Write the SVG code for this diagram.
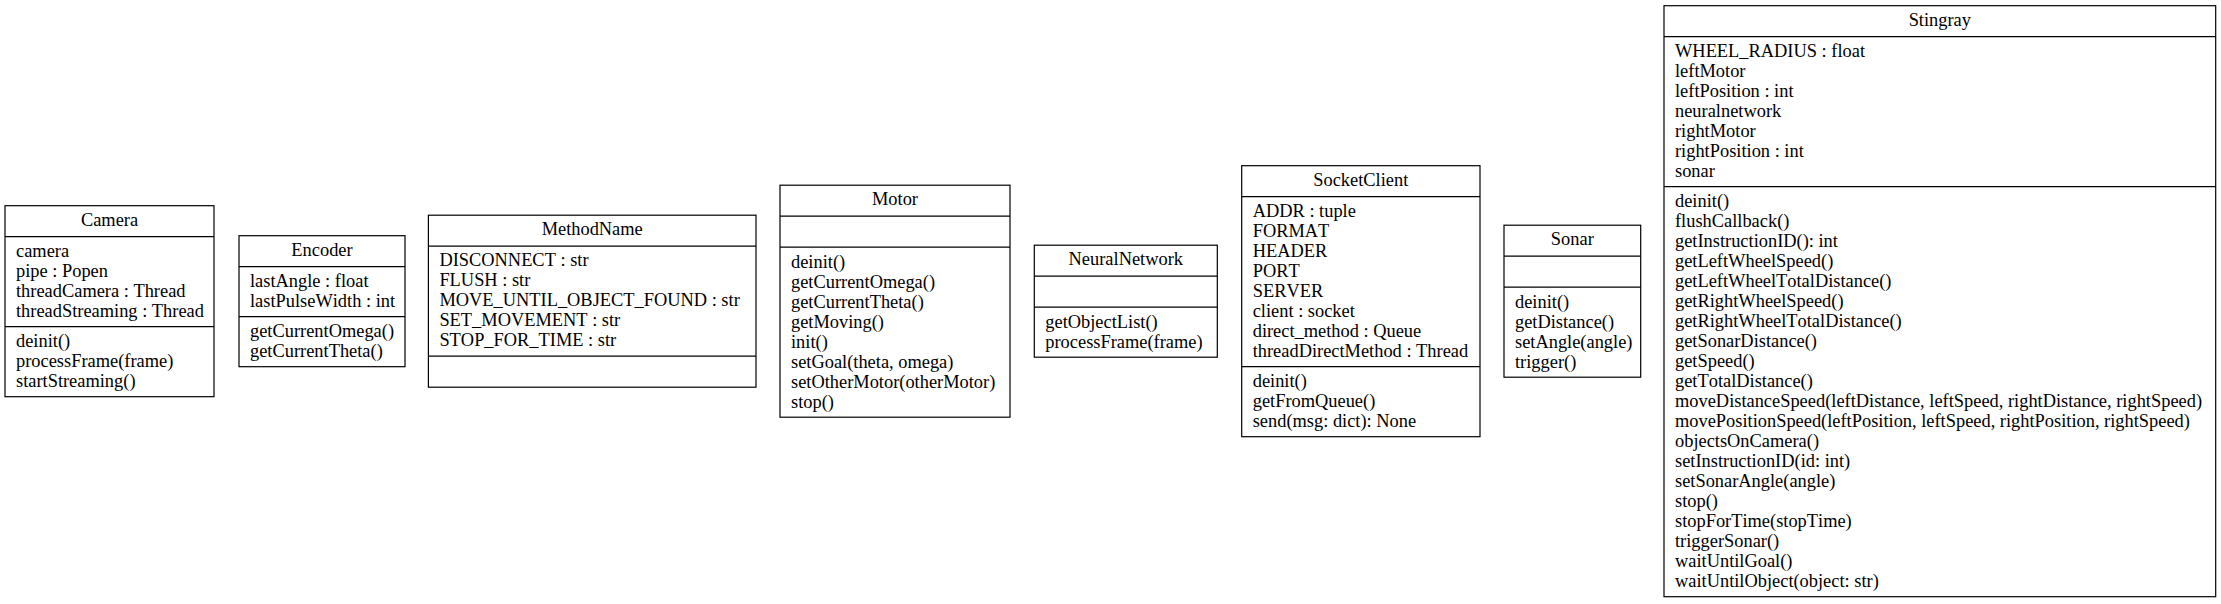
<svg xmlns="http://www.w3.org/2000/svg" width="2221" height="604" viewBox="0 0 2221 604">
<style>
  .box { fill: #ffffff; stroke: #000000; stroke-width: 1.2; }
  .sep { stroke: #000000; stroke-width: 1.2; fill: none; }
  text { font-family: "Liberation Serif", "Times New Roman", serif; font-size: 18.4px; font-kerning: none; fill: #000000; }
  .title { text-anchor: middle; }
</style>
<rect width="2221" height="604" fill="#ffffff"/>
<g id="connectors"></g>

<g id="Camera">
  <rect class="box" x="5" y="205.7" width="209" height="191"/>
  <line class="sep" x1="5" y1="236.7" x2="214" y2="236.7"/>
  <line class="sep" x1="5" y1="326.7" x2="214" y2="326.7"/>
  <text class="title" x="109.5" y="225.5">Camera</text>
  <text x="16" y="256.5">camera</text>
  <text x="16" y="276.5">pipe : Popen</text>
  <text x="16" y="296.5">threadCamera : Thread</text>
  <text x="16" y="316.5">threadStreaming : Thread</text>
  <text x="16" y="347">deinit()</text>
  <text x="16" y="367">processFrame(frame)</text>
  <text x="16" y="387">startStreaming()</text>
</g>

<g id="Encoder">
  <rect class="box" x="239" y="235.7" width="166" height="131"/>
  <line class="sep" x1="239" y1="266.7" x2="405" y2="266.7"/>
  <line class="sep" x1="239" y1="316.7" x2="405" y2="316.7"/>
  <text class="title" x="322" y="255.5">Encoder</text>
  <text x="250" y="286.5">lastAngle : float</text>
  <text x="250" y="306.5">lastPulseWidth : int</text>
  <text x="250" y="337">getCurrentOmega()</text>
  <text x="250" y="357">getCurrentTheta()</text>
</g>

<g id="MethodName">
  <rect class="box" x="428.4" y="215.2" width="327.6" height="172"/>
  <line class="sep" x1="428.4" y1="246.2" x2="756" y2="246.2"/>
  <line class="sep" x1="428.4" y1="356.2" x2="756" y2="356.2"/>
  <text class="title" x="592.2" y="235">MethodName</text>
  <text x="439.4" y="266">DISCONNECT : str</text>
  <text x="439.4" y="286">FLUSH : str</text>
  <text x="439.4" y="306">MOVE_UNTIL_OBJECT_FOUND : str</text>
  <text x="439.4" y="326">SET_MOVEMENT : str</text>
  <text x="439.4" y="346">STOP_FOR_TIME : str</text>
</g>

<g id="Motor">
  <rect class="box" x="780" y="185.2" width="230" height="232"/>
  <line class="sep" x1="780" y1="216.2" x2="1010" y2="216.2"/>
  <line class="sep" x1="780" y1="247.2" x2="1010" y2="247.2"/>
  <text class="title" x="895" y="205">Motor</text>
  <text x="791" y="267.5">deinit()</text>
  <text x="791" y="287.5">getCurrentOmega()</text>
  <text x="791" y="307.5">getCurrentTheta()</text>
  <text x="791" y="327.5">getMoving()</text>
  <text x="791" y="347.5">init()</text>
  <text x="791" y="367.5">setGoal(theta, omega)</text>
  <text x="791" y="387.5">setOtherMotor(otherMotor)</text>
  <text x="791" y="407.5">stop()</text>
</g>

<g id="NeuralNetwork">
  <rect class="box" x="1034.3" y="245.2" width="183" height="112"/>
  <line class="sep" x1="1034.3" y1="276.2" x2="1217.3" y2="276.2"/>
  <line class="sep" x1="1034.3" y1="307.2" x2="1217.3" y2="307.2"/>
  <text class="title" x="1125.8" y="265">NeuralNetwork</text>
  <text x="1045.3" y="327.5">getObjectList()</text>
  <text x="1045.3" y="347.5">processFrame(frame)</text>
</g>

<g id="SocketClient">
  <rect class="box" x="1241.7" y="165.7" width="238.3" height="271"/>
  <line class="sep" x1="1241.7" y1="196.7" x2="1480" y2="196.7"/>
  <line class="sep" x1="1241.7" y1="366.7" x2="1480" y2="366.7"/>
  <text class="title" x="1360.8" y="185.5">SocketClient</text>
  <text x="1252.7" y="216.5">ADDR : tuple</text>
  <text x="1252.7" y="236.5">FORMAT</text>
  <text x="1252.7" y="256.5">HEADER</text>
  <text x="1252.7" y="276.5">PORT</text>
  <text x="1252.7" y="296.5">SERVER</text>
  <text x="1252.7" y="316.5">client : socket</text>
  <text x="1252.7" y="336.5">direct_method : Queue</text>
  <text x="1252.7" y="356.5">threadDirectMethod : Thread</text>
  <text x="1252.7" y="387">deinit()</text>
  <text x="1252.7" y="407">getFromQueue()</text>
  <text x="1252.7" y="427">send(msg: dict): None</text>
</g>

<g id="Sonar">
  <rect class="box" x="1504" y="225.2" width="136.7" height="152"/>
  <line class="sep" x1="1504" y1="256.2" x2="1640.7" y2="256.2"/>
  <line class="sep" x1="1504" y1="287.2" x2="1640.7" y2="287.2"/>
  <text class="title" x="1572.3" y="245">Sonar</text>
  <text x="1515" y="307.5">deinit()</text>
  <text x="1515" y="327.5">getDistance()</text>
  <text x="1515" y="347.5">setAngle(angle)</text>
  <text x="1515" y="367.5">trigger()</text>
</g>

<g id="Stingray">
  <rect class="box" x="1664" y="5.7" width="551.7" height="591"/>
  <line class="sep" x1="1664" y1="36.7" x2="2215.7" y2="36.7"/>
  <line class="sep" x1="1664" y1="186.7" x2="2215.7" y2="186.7"/>
  <text class="title" x="1939.8" y="25.5">Stingray</text>
  <text x="1675" y="56.5">WHEEL_RADIUS : float</text>
  <text x="1675" y="76.5">leftMotor</text>
  <text x="1675" y="96.5">leftPosition : int</text>
  <text x="1675" y="116.5">neuralnetwork</text>
  <text x="1675" y="136.5">rightMotor</text>
  <text x="1675" y="156.5">rightPosition : int</text>
  <text x="1675" y="176.5">sonar</text>
  <text x="1675" y="207">deinit()</text>
  <text x="1675" y="227">flushCallback()</text>
  <text x="1675" y="247">getInstructionID(): int</text>
  <text x="1675" y="267">getLeftWheelSpeed()</text>
  <text x="1675" y="287">getLeftWheelTotalDistance()</text>
  <text x="1675" y="307">getRightWheelSpeed()</text>
  <text x="1675" y="327">getRightWheelTotalDistance()</text>
  <text x="1675" y="347">getSonarDistance()</text>
  <text x="1675" y="367">getSpeed()</text>
  <text x="1675" y="387">getTotalDistance()</text>
  <text x="1675" y="407">moveDistanceSpeed(leftDistance, leftSpeed, rightDistance, rightSpeed)</text>
  <text x="1675" y="427">movePositionSpeed(leftPosition, leftSpeed, rightPosition, rightSpeed)</text>
  <text x="1675" y="447">objectsOnCamera()</text>
  <text x="1675" y="467">setInstructionID(id: int)</text>
  <text x="1675" y="487">setSonarAngle(angle)</text>
  <text x="1675" y="507">stop()</text>
  <text x="1675" y="527">stopForTime(stopTime)</text>
  <text x="1675" y="547">triggerSonar()</text>
  <text x="1675" y="567">waitUntilGoal()</text>
  <text x="1675" y="587">waitUntilObject(object: str)</text>
</g>
</svg>
